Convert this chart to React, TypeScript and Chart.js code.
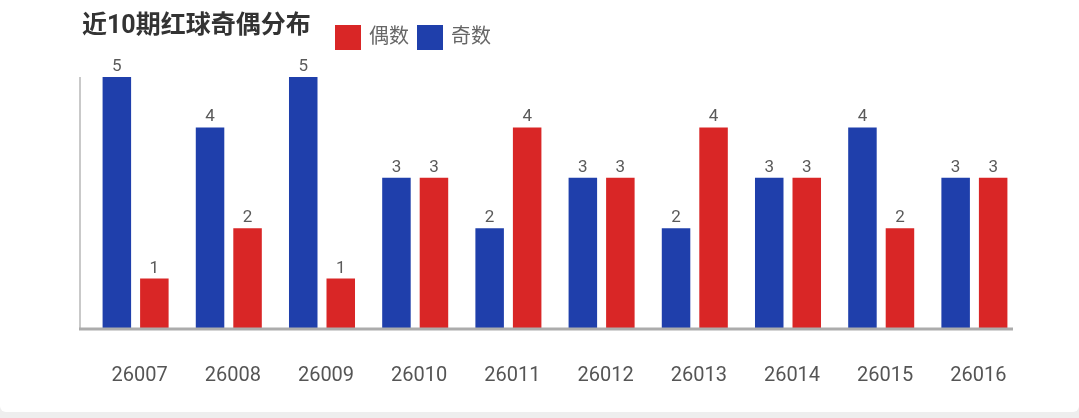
import React, { useEffect, useRef } from "react";
import { Chart, registerables } from "chart.js";

Chart.register(...registerables);

const categories = ["26007", "26008", "26009", "26010", "26011", "26012", "26013", "26014", "26015", "26016"];
const oddCounts = [5, 4, 5, 3, 2, 3, 2, 3, 4, 3];
const evenCounts = [1, 2, 1, 3, 4, 3, 4, 3, 2, 3];
const titleText = "近10期红球奇偶分布";
const oddLabel = "奇数";
const evenLabel = "偶数";

const FONT = "Roboto, 'Noto Sans CJK SC', sans-serif";

const overlayPlugin = {
  id: "overlay",
  afterDatasetsDraw(chart: any) {
    const { ctx, chartArea } = chart;
    ctx.save();
    // axis lines
    const axisX = chartArea.left - 9;
    ctx.strokeStyle = "#c9c9c9";
    ctx.lineWidth = 2;
    ctx.beginPath();
    ctx.moveTo(axisX, chartArea.top);
    ctx.lineTo(axisX, chartArea.bottom);
    ctx.stroke();
    ctx.strokeStyle = "#acacac";
    ctx.lineWidth = 3;
    ctx.beginPath();
    ctx.moveTo(axisX - 1, chartArea.bottom);
    ctx.lineTo(chartArea.right - 8, chartArea.bottom);
    ctx.stroke();

    // value labels
    ctx.fillStyle = "#5a5a5a";
    ctx.font = `17px ${FONT}`;
    ctx.textAlign = "center";
    ctx.textBaseline = "alphabetic";
    chart.data.datasets.forEach((ds: any, i: number) => {
      const meta = chart.getDatasetMeta(i);
      meta.data.forEach((bar: any, j: number) => {
        ctx.fillText(String(ds.data[j]), bar.x, bar.y - 6);
      });
    });

    // title
    ctx.textAlign = "left";
    ctx.textBaseline = "middle";
    ctx.fillStyle = "#333";
    ctx.font = `bold 25px ${FONT}`;
    ctx.fillText(titleText, 82, 27);

    // legend (reversed dataset order)
    let x = 335;
    const items = chart.data.datasets.slice().reverse();
    ctx.font = `20px ${FONT}`;
    items.forEach((ds: any) => {
      ctx.fillStyle = ds.backgroundColor;
      ctx.fillRect(x, 25, 26, 25);
      ctx.fillStyle = "#666";
      ctx.fillText(ds.label, x + 34, 38);
      x += 34 + ctx.measureText(ds.label).width + 8;
    });
    ctx.restore();
  },
};

export default function App() {
  const ref = useRef<HTMLCanvasElement>(null);
  useEffect(() => {
    if (!ref.current) return;
    const chart = new Chart(ref.current, {
      type: "bar",
      data: {
        labels: categories,
        datasets: [
          { label: oddLabel, data: oddCounts, backgroundColor: "#1f3fab", borderWidth: 0 },
          { label: evenLabel, data: evenCounts, backgroundColor: "#d92626", borderWidth: 0 },
        ],
      },
      options: {
        animation: false,
        responsive: false,
        maintainAspectRatio: false,
        devicePixelRatio: 1,
        layout: { padding: { left: 89, right: 58, top: 77, bottom: -5 } },
        datasets: { bar: { categoryPercentage: 0.805, barPercentage: 0.76 } },
        plugins: {
          legend: { display: false },
          title: { display: false },
          tooltip: { enabled: false },
        },
        scales: {
          x: {
            grid: { display: false, drawTicks: false },
            border: { display: false },
            ticks: {
              color: "#555",
              font: { family: FONT, size: 20 },
              padding: 35,
              labelOffset: 4,
              maxRotation: 0,
              autoSkip: false,
            },
          },
          y: {
            display: false,
            min: 0,
            max: 5,
          },
        },
      },
      plugins: [overlayPlugin],
    });
    return () => chart.destroy();
  }, []);

  return (
    <div style={{ position: "fixed", left: 0, top: 0, width: 1079, height: 418, background: "#eeeeee" }}>
      <div style={{ position: "absolute", left: 0, top: 0, width: 1079, height: 412, background: "#fff", borderBottomLeftRadius: 6, borderBottomRightRadius: 6 }} />
      <canvas ref={ref} width={1079} height={418} style={{ position: "absolute", left: 0, top: 0, width: 1079, height: 418 }} />
    </div>
  );
}
